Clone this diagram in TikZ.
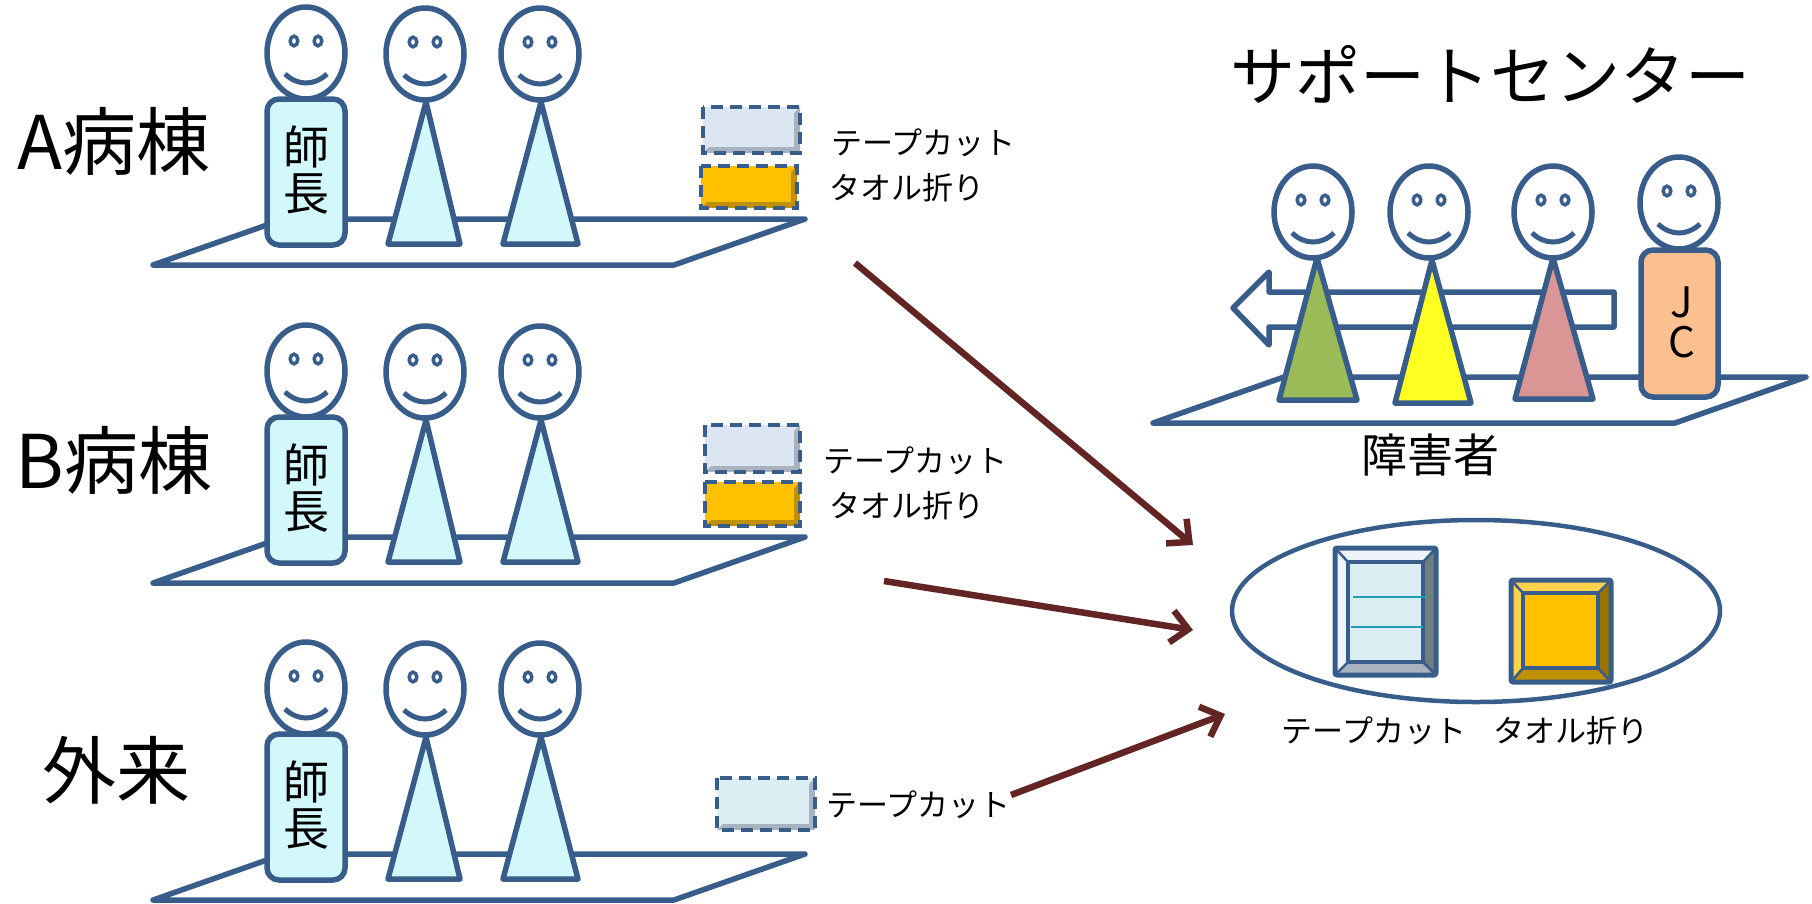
\documentclass[tikz,border=0pt]{standalone}
\usepackage{fontspec}
\setmainfont{Noto Sans CJK JP}
\usetikzlibrary{arrows.meta,shapes.geometric}

\definecolor{linec}{HTML}{385D8A}
\definecolor{bodyc}{HTML}{D3F8FC}
\definecolor{arrowc}{HTML}{632523}
\definecolor{tapec}{HTML}{DCE6F2}
\definecolor{tapelt}{HTML}{EEF3F9}
\definecolor{tapedk}{HTML}{A9B3C0}
\definecolor{tapeb}{HTML}{DAEEF3}
\definecolor{towelc}{HTML}{FFC000}
\definecolor{towellt}{HTML}{FFD24D}
\definecolor{toweldk}{HTML}{BF9000}
\definecolor{greenc}{HTML}{9BBB59}
\definecolor{yellowc}{HTML}{FFFF21}
\definecolor{pinkc}{HTML}{D99694}
\definecolor{jcc}{HTML}{FAC090}

\newcommand\fsz[1]{\fontsize{#1}{#1}\selectfont}

\tikzset{
  outl/.style={draw=linec, line width=5.5, line join=round},
  lbl/.style={inner sep=0, font=\fsz{#1}},
  flow/.style={draw=arrowc, line width=6.5, -{Straight Barb[length=17pt,width=32pt,line width=6.5pt]}},
  dashbox/.style={draw=linec, line width=4.5, dash pattern=on 12pt off 7pt},
  pics/face/.style={code={
    \draw[outl, fill=white] (0,0) ellipse [x radius=39, y radius=46];
    \draw[draw=linec, line width=3.5] (-12,-12) ellipse [x radius=3.8, y radius=4.8];
    \draw[draw=linec, line width=3.5] (12,-12) ellipse [x radius=3.8, y radius=4.8];
    \draw[draw=linec, line width=5, line cap=butt] (-21,21) .. controls (-8,33) and (8,33) .. (21,21);
  }}
}

% one ward: floor plate, head nurse, two staff
\newcommand\wardrow[2]{%
  \begin{scope}[shift={(0,#1)}]
    \draw[outl, line width=5.5, fill=white] (153,265) -- (284,219) -- (805,219) -- (674,265) -- cycle;
    \draw[outl, fill=bodyc, rounded corners=12] (267,99) rectangle (345,245);
    \node[lbl=46, align=center] (#2chief) at (306,170) {師\\長};
    \draw[outl, fill=bodyc] (426,102) -- (388,244) -- (460,244) -- cycle;
    \draw[outl, fill=bodyc] (541,102) -- (503,244) -- (578,244) -- cycle;
    \pic at (306,53) {face};
    \pic at (425,54) {face};
    \pic at (540,54) {face};
  \end{scope}}

% small dashed supply box with shaded right and bottom edges
\newcommand\supply[6]{%
  \fill[#5] (#1,#2) rectangle (#3,#4);
  \fill[#6] (#3,#2) -- (#3,#4) -- (#3-6,#4-6) -- (#3-6,#2+6) -- cycle;
  \fill[#6] (#1,#4) -- (#3,#4) -- (#3-6,#4-6) -- (#1+6,#4-6) -- cycle;
  \draw[dashbox] (#1,#2) rectangle (#3,#4);}

\begin{document}
\begin{tikzpicture}[x=1pt,y=-1pt]
\useasboundingbox (0,0) rectangle (1812,903);

% ---- wards ----
\wardrow{0}{a}
\wardrow{318}{b}
\wardrow{635}{c}

\node[lbl=74] (wardA) at (114,141) {A病棟};
\node[lbl=74] (wardB) at (114,460) {B病棟};
\node[lbl=74] (outp) at (116,770) {外来};

\supply{703}{107}{800}{153}{tapec}{tapedk}
\supply{701}{166}{797}{208}{towelc}{toweldk}
\node[lbl=31, anchor=west] (tA) at (831,143) {テープカット};
\node[lbl=31, anchor=west] (wA) at (829,188) {タオル折り};

\supply{705}{425}{800}{472}{tapec}{tapedk}
\supply{705}{482}{800}{526}{towelc}{toweldk}
\node[lbl=31, anchor=west] (tB) at (823,461) {テープカット};
\node[lbl=31, anchor=west] (wB) at (829,506) {タオル折り};

\supply{717}{778}{815}{830}{tapeb}{tapedk}
\node[lbl=31, anchor=west] (tC) at (826,805) {テープカット};

% ---- support center ----
\node[lbl=65] (title) at (1490,74) {サポートセンター};

\draw[outl, line width=5.5, fill=white] (1153,423) -- (1284,377) -- (1806,377) -- (1675,423) -- cycle;
\draw[outl, fill=white] (1233,308) -- (1269,272) -- (1269,292) -- (1614,292) -- (1614,327)
   -- (1269,327) -- (1269,345) -- cycle;
\draw[outl, fill=greenc] (1317,258) -- (1279,400) -- (1357,400) -- cycle;
\draw[outl, fill=yellowc] (1432,260) -- (1395,403) -- (1471,403) -- cycle;
\draw[outl, fill=pinkc] (1553,258) -- (1515,399) -- (1593,399) -- cycle;
\draw[outl, fill=jcc, rounded corners=12] (1641,250) rectangle (1718,397);
\node[lbl=42] (jcJ) at (1682,302) {J};
\node[lbl=42] (jcC) at (1682,342) {C};
\pic at (1313,212) {face};
\pic at (1429,212) {face};
\pic at (1553,212) {face};
\pic at (1679,203) {face};
\node[lbl=46] (disab) at (1430,455) {障害者};

% ---- shared stock ----
\node[ellipse, draw=linec, line width=4.5, minimum width=488pt, minimum height=182pt, inner sep=0]
  (pool) at (1476,611) {};

% tape box
\fill[tapeb] (1335,548) rectangle (1436,675);
\fill[tapelt] (1335,548) -- (1436,548) -- (1423,562) -- (1348,562) -- cycle;
\fill[tapelt] (1335,548) -- (1348,562) -- (1348,662) -- (1335,675) -- cycle;
\fill[gray!85!teal] (1436,548) -- (1436,675) -- (1423,662) -- (1423,562) -- cycle;
\fill[tapedk] (1335,675) -- (1436,675) -- (1423,662) -- (1348,662) -- cycle;
\draw[linec, line width=2.5] (1335,548) -- (1348,562) (1436,548) -- (1423,562)
   (1335,675) -- (1348,662) (1436,675) -- (1423,662);
\draw[outl, line width=4.5] (1348,562) rectangle (1423,662);
\draw[outl, line width=5, rounded corners=2] (1335,548) rectangle (1436,675);
\draw[draw=linec!60!cyan, line width=2] (1353,597) -- (1427,597) (1351,627) -- (1423,627);

% towel box
\fill[towelc] (1511,580) rectangle (1611,682);
\fill[towellt] (1511,580) -- (1611,580) -- (1598,593) -- (1523,593) -- cycle;
\fill[towellt] (1511,580) -- (1523,593) -- (1523,668) -- (1511,682) -- cycle;
\fill[toweldk!80!black] (1611,580) -- (1611,682) -- (1598,668) -- (1598,593) -- cycle;
\fill[toweldk] (1511,682) -- (1611,682) -- (1598,668) -- (1523,668) -- cycle;
\draw[linec, line width=2.5] (1511,580) -- (1523,593) (1611,580) -- (1598,593)
   (1511,682) -- (1523,668) (1611,682) -- (1598,668);
\draw[outl, line width=4.5] (1523,593) rectangle (1598,668);
\draw[outl, line width=5, rounded corners=2] (1511,580) rectangle (1611,682);

\node[lbl=31] (tapeL) at (1374,731) {テープカット};
\node[lbl=31] (towelL) at (1571,731) {タオル折り};

% ---- flows into the shared stock ----
\coordinate (fa) at (855,263);  \coordinate (fa2) at (1193,545);
\coordinate (fb) at (884,581);  \coordinate (fb2) at (1193,630);
\coordinate (fc) at (1011,795); \coordinate (fc2) at (1225,714);
\draw[flow] (fa) -- (fa2);
\draw[flow] (fb) -- (fb2);
\draw[flow] (fc) -- (fc2);
\end{tikzpicture}
\end{document}
